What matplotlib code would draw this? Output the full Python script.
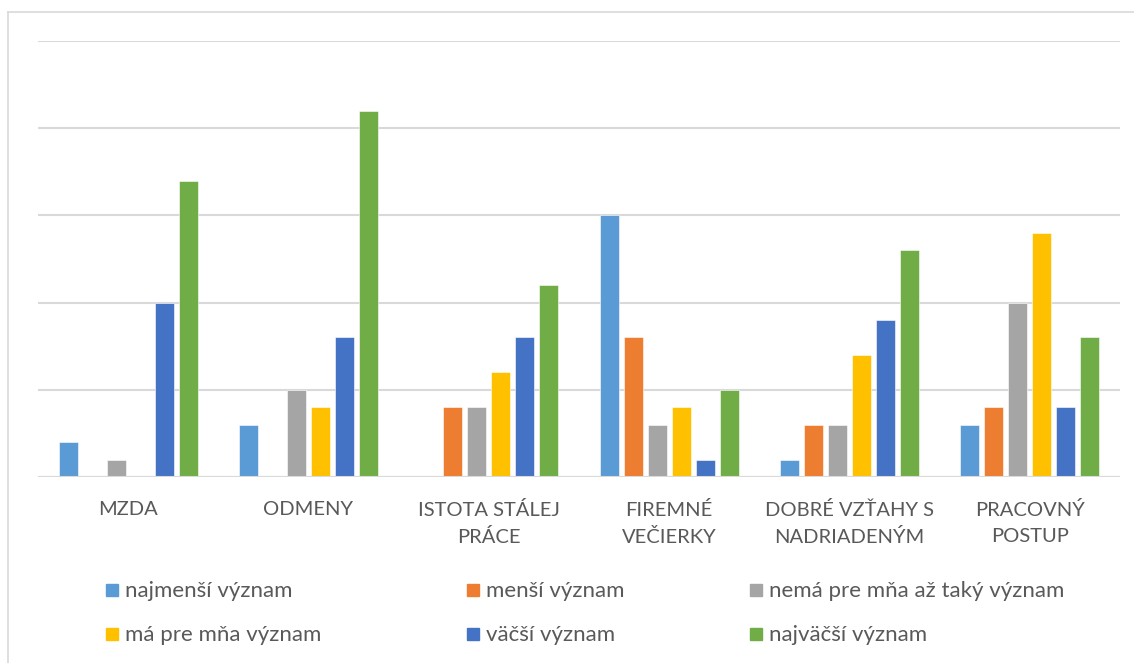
import matplotlib
matplotlib.use("Agg")
import matplotlib.pyplot as plt
import numpy as np
from matplotlib.patches import Rectangle
from matplotlib.lines import Line2D

categories = ["MZDA", "ODMENY", "ISTOTA STÁLEJ\nPRÁCE", "FIREMNÉ\nVEČIERKY",
              "DOBRÉ VZŤAHY S\nNADRIADENÝM", "PRACOVNÝ\nPOSTUP"]
series_names = ["najmenší význam", "menší význam", "nemá pre mňa až taký význam",
                "má pre mňa význam", "väčší význam", "najväčší význam"]
najmensi = [2, 3, 0, 15, 1, 3]
mensi = [0, 0, 4, 8, 3, 4]
nema = [1, 5, 4, 3, 3, 10]
ma = [0, 4, 6, 4, 7, 14]
vacsi = [10, 8, 8, 1, 9, 4]
najvacsi = [17, 21, 11, 5, 13, 8]
values = [najmensi, mensi, nema, ma, vacsi, najvacsi]
colors = ["#5B9BD5", "#ED7D31", "#A5A5A5", "#FFC000", "#4472C4", "#70AD47"]

plt.rcParams['font.family'] = ['Lato', 'DejaVu Sans']
W, H = 1134, 663
fig = plt.figure(figsize=(W/100, H/100), dpi=100)
ax = fig.add_axes([38/W, 1-477/H, (1120-38)/W, (477-41)/H])

x = np.arange(len(categories))
step = 24/180.3
width = 19/180.3
for i, (vals, c) in enumerate(zip(values, colors)):
    ax.bar(x + (i-2.5)*step, vals, width, color=c, edgecolor='white', linewidth=0.4, zorder=3)

ax.set_xlim(-0.5, len(categories)-0.5)
ax.set_ylim(0, 25)
ax.set_yticks([0, 5, 10, 15, 20, 25])
ax.yaxis.grid(True, color='#D9D9D9', linewidth=1.5, zorder=0)
ax.set_yticklabels([])
ax.tick_params(axis='y', length=0)
ax.tick_params(axis='x', length=0, pad=17)
for s in ax.spines.values():
    s.set_visible(False)
ax.axhline(0, color='#D9D9D9', linewidth=1.5, zorder=4)
ax.set_xticks(x)
ax.set_xticklabels(categories, fontsize=14.5, color='#595959', linespacing=1.65)

# chart border
fig.add_artist(Line2D([8/W, 8/W], [0, 1-12/H], color='#D9D9D9', linewidth=1.2))
fig.add_artist(Line2D([8/W, 1], [1-12/H, 1-12/H], color='#D9D9D9', linewidth=1.2))

# legend
lx = [106, 467, 750]
ly = [590, 634]
for k, (name, c) in enumerate(zip(series_names, colors)):
    r, col = divmod(k, 3)
    px, py = lx[col], ly[r]
    fig.add_artist(Rectangle((px/W, 1-(py+6)/H), 12/W, 12/H, color=c, transform=fig.transFigure))
    fig.text((px+19)/W, 1-(py+1)/H, name, fontsize=16, color='#595959', va='center', ha='left')

fig.savefig("out.png", dpi=100)
